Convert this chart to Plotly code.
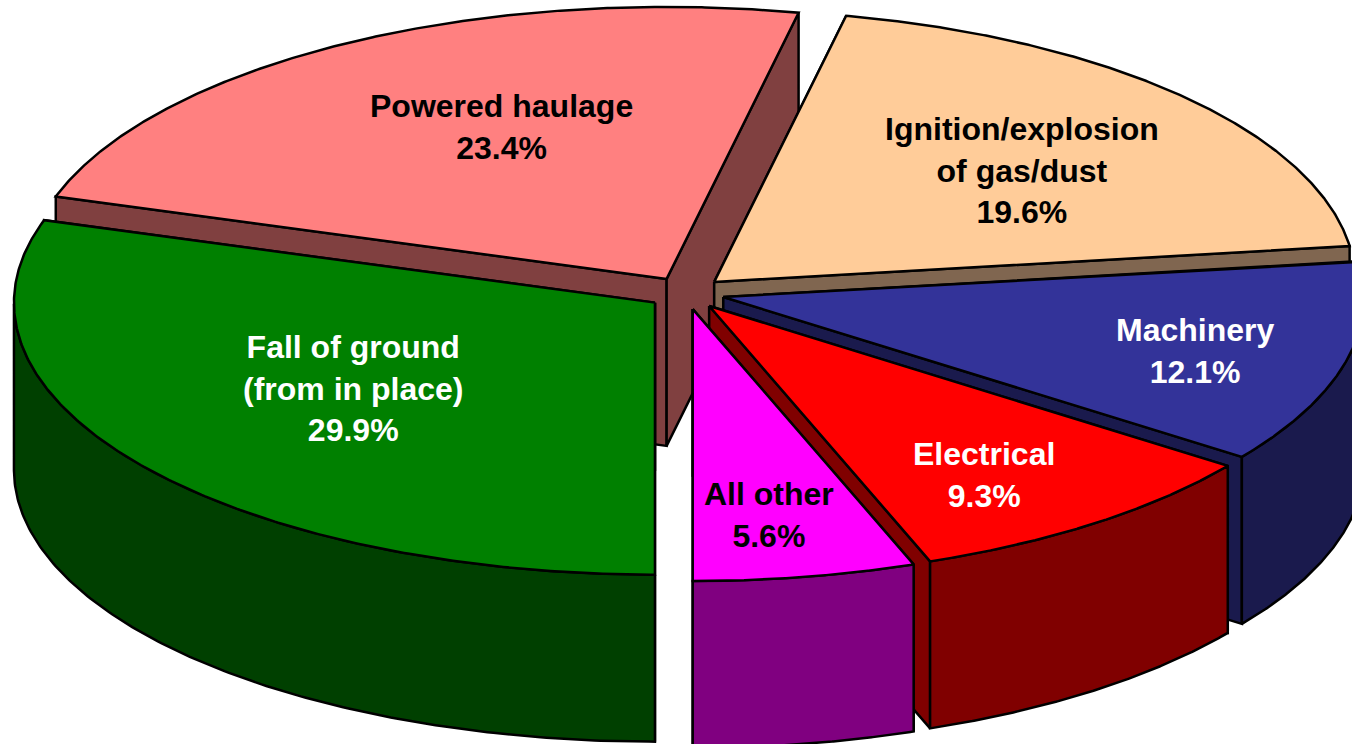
import numpy as np
import plotly.graph_objects as go

# Data
categories = ["Fall of ground<br>(from in place)", "Powered haulage",
              "Ignition/explosion<br>of gas/dust", "Machinery", "Electrical", "All other"]
shares = [29.9, 23.4, 19.6, 12.1, 9.3, 5.6]          # printed labels (sum to 99.9 by rounding)
slice_sizes = [29.9, 23.4, 19.6, 12.1, 9.4, 5.6]     # drawn sizes, closing the circle

# Style
top_colors = ["#008000", "#FF8080", "#FFCC99", "#333399", "#FF0000", "#FF00FF"]
wall_colors = ["#004000", "#804040", "#806650", "#1A1A4D", "#800000", "#800080"]
text_colors = ["white", "black", "black", "white", "white", "black"]
label_xy = [(353, 388), (501, 127), (1022, 170), (1195, 351), (984, 475), (769, 515)]
draw_order = [1, 2, 3, 4, 5, 0]

# Pie geometry (plot units = pixels)
CX, CY, RX, RY, DEPTH, EXPLODE = 686, 293, 641, 272, 167, 0.06
W, H = 1352, 744


def point(theta):
    return -RX * np.sin(theta), RY * np.cos(theta)


def poly(fig, xs, ys, color):
    fig.add_trace(go.Scatter(
        x=list(xs) + [xs[0]], y=list(ys) + [ys[0]], mode="lines", fill="toself",
        fillcolor=color, line=dict(color="black", width=2.5), hoverinfo="skip", showlegend=False))


fig = go.Figure()
edges = np.radians(np.concatenate([[0], np.cumsum(slice_sizes)]) / sum(slice_sizes) * 360)

for i in draw_order:
    t0, t1 = edges[i], edges[i + 1]
    mx, my = point((t0 + t1) / 2)
    ax, ay = CX + EXPLODE * mx, CY + EXPLODE * my
    # radial cut faces
    for t in (t0, t1):
        px, py = point(t)
        poly(fig, [ax, ax + px, ax + px, ax], [ay, ay + py, ay + py + DEPTH, ay + DEPTH], wall_colors[i])
    # outer wall: only the part that faces the viewer
    ts = np.linspace(t0, t1, 200)
    ts = ts[np.cos(ts) >= 0]
    if len(ts) > 1:
        px, py = point(ts)
        poly(fig, np.concatenate([ax + px, (ax + px)[::-1]]),
             np.concatenate([ay + py, (ay + py + DEPTH)[::-1]]), wall_colors[i])
    # top face
    ts = np.linspace(t0, t1, 300)
    px, py = point(ts)
    poly(fig, np.concatenate([[ax], ax + px]), np.concatenate([[ay], ay + py]), top_colors[i])

for name, share, (x, y), c in zip(categories, shares, label_xy, text_colors):
    fig.add_annotation(x=x, y=y, text=f"<b>{name}<br>{share:.1f}%</b>", showarrow=False,
                       font=dict(family="Liberation Sans, Arial, sans-serif", size=32, color=c),
                       align="center", xanchor="center", yanchor="middle")

fig.update_xaxes(range=[0, W], visible=False, fixedrange=True)
fig.update_yaxes(range=[H, 0], visible=False, fixedrange=True)
fig.update_layout(width=W, height=H, margin=dict(l=0, r=0, t=0, b=0),
                  paper_bgcolor="white", plot_bgcolor="white", showlegend=False)
fig.write_html("out.html", config={"displayModeBar": False},
               post_script="document.body.style.margin='0';document.body.style.overflow='hidden';")
